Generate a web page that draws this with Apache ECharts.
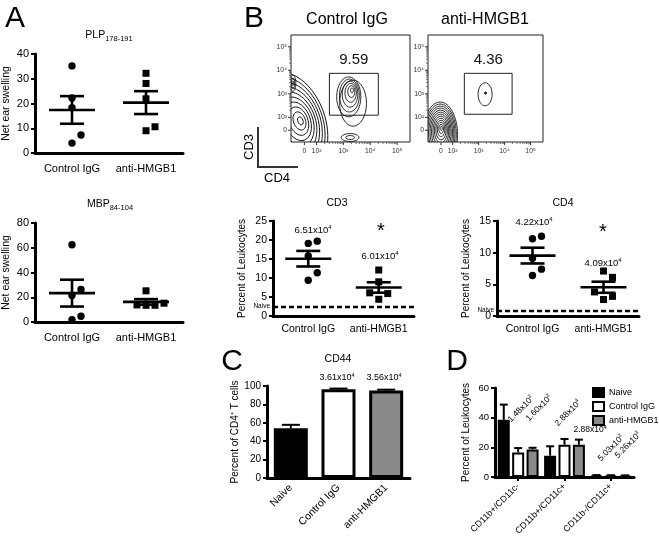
<!DOCTYPE html>
<html><head><meta charset="utf-8">
<script src="https://cdn.jsdelivr.net/npm/echarts@6/dist/echarts.min.js"></script>
<style>html,body{margin:0;padding:0;background:#fff}#c{width:659px;height:545px}</style>
</head><body><div id="c"></div>
<script>
const FONT = '"Liberation Sans", Arial, Helvetica, sans-serif';

// ---------------- data ----------------
const groupNames = ['Control IgG', 'anti-HMGB1'];
// Panel A: net ear swelling
const plpControl = [35.2, 22.2, 18.3, 4.0, 7.3];
const plpAnti = [32.2, 28.1, 21.9, 9.0, 10.6];
const mbpControl = [62.4, 21.4, 26.3, 1.9, 4.6];
const mbpAnti = [25.2, 13.5, 13.5, 13.8, 15.2];
// Panel B: percent of leukocytes
const cd3Control = [19.1, 19.7, 15.8, 9.4, 11.4];
const cd3Anti = [12.1, 9.0, 4.4, 5.9, 6.1];
const cd4Control = [12.2, 12.6, 9.1, 6.4, 7.4];
const cd4Anti = [7.1, 6.1, 2.6, 3.1, 3.8];
const cd3Naive = 2.45;
const cd4Naive = 0.84;
const cd3Counts = [['6.51', '4'], ['6.01', '4']];
const cd4Counts = [['4.22', '4'], ['4.09', '4']];
// Panel B: flow plots (axis units: 10^k -> k)
const flowTickX = [1.55, 2, 3, 4, 5];
const flowTickY = [1.45, 2, 3, 4, 5];
const flowTickLabels = ['0', '10²', '10³', '10⁴', '10⁵'];
const flowMinorMultipliers = [2, 3, 4, 5, 6, 7, 8, 9];
const flowMinorDecades = [2, 3, 4];
const gateControl = [2.48, 4.30, 2.09, 3.87];
const gateAnti = [2.45, 4.29, 2.13, 3.87];
const gatePercent = ['9.59', '4.36'];
// contour populations: [cx, cy, rx, ry, coreX, coreY, levels, rotationDeg, innerScale]
const contoursControl = [
  [1.09, 1.79, 1.23, 2.2, 1.40, 1.85, 10, 20, 0.08],
  [1.12, 3.45, 0.11, 0.34, 1.12, 3.45, 3, 0, 0.3],
  [3.36, 2.60, 0.50, 0.98, 3.36, 2.60, 1, 0, 1],
  [3.20, 2.87, 0.45, 0.85, 3.32, 3.15, 6, 0, 0.12],
  [3.25, 1.14, 0.33, 0.17, 3.25, 1.14, 2, 0, 0.5]
];
const contoursAnti = [
  [1.52, 1.24, 0.67, 1.41, 1.56, 1.53, 13, 0, 0.06],
  [3.25, 2.98, 0.27, 0.49, 3.25, 2.98, 1, 0, 1],
  [3.27, 3.03, 0.04, 0.05, 3.27, 3.03, 1, 0, 1]
];
// Panel C: CD44
const cd44Groups = ['Naive', 'Control IgG', 'anti-HMGB1'];
const cd44Values = [54.2, 96.4, 95.0];
const cd44Errors = [3.6, 0.8, 1.0];
const cd44Counts = [null, ['3.61', '4'], ['3.56', '4']];
// Panel D: myeloid subsets
const myeloidGroups = ['CD11b+/CD11c-', 'CD11b+/CD11c+', 'CD11b-/CD11c+'];
const myeloidNaive = [38.6, 14.4, 1.0];
const myeloidNaiveErr = [10.2, 6.3, 0.3];
const myeloidControl = [16.6, 21.8, 0.9];
const myeloidControlErr = [2.9, 3.8, 0.3];
const myeloidAnti = [18.6, 21.8, 0.8];
const myeloidAntiErr = [1.1, 3.4, 0.3];

// ---------------- helpers ----------------
const FLOW_X = [1.05, 5.48];
const FLOW_Y = [0.95, 5.5];
const mean = a => a.reduce((s, v) => s + v, 0) / a.length;
const sem = a => { const m = mean(a); return Math.sqrt(a.reduce((s, v) => s + (v - m) * (v - m), 0) / (a.length - 1)) / Math.sqrt(a.length); };
const flowMinor = [];
flowMinorDecades.forEach(k => flowMinorMultipliers.forEach(m => flowMinor.push(k + Math.log10(m))));

function jitterOffsets(vals, toPx) {
  const placed = [], offs = [];
  const cands = [0, 9, -9, 18, -18, 27, -27];
  vals.forEach(v => {
    const py = toPx(v);
    for (const c of cands) {
      if (!placed.some(p => p.o === c && Math.abs(p.y - py) < 8.5)) { placed.push({ o: c, y: py }); offs.push(c); break; }
    }
  });
  return offs;
}

function dotSeries(gi, ctrl, anti, naive) {
  const groups = [ctrl, anti];
  const pts = [];
  ctrl.forEach(v => pts.push([0, v]));
  anti.forEach(v => pts.push([1, v]));
  const stroke = { stroke: '#000', lineWidth: 2.6 };
  const meanSeries = {
    type: 'custom', xAxisIndex: gi, yAxisIndex: gi, silent: true, z: 3,
    data: groups.map((g, i) => [i, mean(g), sem(g)]),
    renderItem(params, api) {
      const c = api.value(0), m = api.value(1), s = api.value(2);
      const pm = api.coord([c, m]), pu = api.coord([c, m + s]), pl = api.coord([c, m - s]);
      return { type: 'group', children: [
        { type: 'line', shape: { x1: pm[0] - 23, y1: pm[1], x2: pm[0] + 23, y2: pm[1] }, style: stroke },
        { type: 'line', shape: { x1: pu[0] - 12, y1: pu[1], x2: pu[0] + 12, y2: pu[1] }, style: stroke },
        { type: 'line', shape: { x1: pl[0] - 12, y1: pl[1], x2: pl[0] + 12, y2: pl[1] }, style: stroke },
        { type: 'line', shape: { x1: pu[0], y1: pu[1], x2: pl[0], y2: pl[1] }, style: stroke }
      ] };
    }
  };
  if (naive != null) {
    meanSeries.markLine = {
      silent: true, symbol: 'none', animation: false,
      data: [{ yAxis: naive }],
      lineStyle: { type: [5, 3], width: 2.4, color: '#000' },
      label: { show: true, position: 'start', formatter: 'Naive', fontSize: 6.5, color: '#000', distance: 3, fontFamily: FONT }
    };
  }
  return [{
    type: 'custom', xAxisIndex: gi, yAxisIndex: gi, silent: true, z: 2,
    data: pts,
    renderItem(params, api) {
      const c = api.value(0), v = api.value(1);
      const vals = groups[c];
      const offs = jitterOffsets(vals, val => api.coord([c, val])[1]);
      const idx = c === 0 ? params.dataIndex : params.dataIndex - ctrl.length;
      const p = api.coord([c, v]);
      const x = p[0] + offs[idx];
      if (c === 0) return { type: 'circle', shape: { cx: x, cy: p[1], r: 3.7 }, style: { fill: '#000' } };
      return { type: 'rect', shape: { x: x - 3.5, y: p[1] - 3.5, width: 7, height: 7 }, style: { fill: '#000' } };
    }
  }, meanSeries];
}

function dotAxes(gi, maxV, interval, name, o) {
  return {
    x: { type: 'category', gridIndex: gi, data: groupNames,
      axisLine: { lineStyle: { color: '#000', width: 3 } }, axisTick: { show: false },
      axisLabel: { color: '#000', fontSize: o.catFont, margin: o.catMargin, fontFamily: FONT, interval: 0, hideOverlap: false } },
    y: { type: 'value', gridIndex: gi, min: 0, max: maxV, interval: interval,
      axisLine: { show: true, lineStyle: { color: '#000', width: 3 } },
      axisTick: { show: true, length: 4, lineStyle: { color: '#000', width: 2 } },
      axisLabel: { color: '#000', fontSize: o.tickFont, margin: 6, fontFamily: FONT },
      splitLine: { show: false },
      name: name, nameLocation: 'middle', nameGap: o.nameGap,
      nameTextStyle: { fontSize: o.nameFont, color: '#000', fontFamily: FONT } }
  };
}

function flowSeries(gi, contours, gate, pct) {
  return [{
    type: 'custom', xAxisIndex: gi, yAxisIndex: gi, silent: true, clip: true,
    data: contours.map(c => [c[0], c[1]]),
    renderItem(params, api) {
      const d = contours[params.dataIndex];
      const [cx, cy, rx, ry, kx, ky, n, rot, kmin] = d;
      const children = [];
      for (let i = 0; i < n; i++) {
        const t = n === 1 ? 0 : i / (n - 1);
        const k = 1 - t * (1 - kmin);
        const c = api.coord([cx + (kx - cx) * t, cy + (ky - cy) * t]);
        const s = api.size([rx * k, ry * k]);
        children.push({ type: 'ellipse', x: c[0], y: c[1], rotation: rot * Math.PI / 180,
          shape: { cx: 0, cy: 0, rx: Math.max(s[0], 0.6), ry: Math.max(s[1], 0.6) },
          style: { fill: n === 1 && rx < 0.1 ? '#222' : null, stroke: '#151515', lineWidth: 0.9 } });
      }
      return { type: 'group', children };
    }
  }, {
    type: 'custom', xAxisIndex: gi, yAxisIndex: gi, silent: true,
    data: [gate],
    renderItem(params, api) {
      const a = api.coord([api.value(0), api.value(3)]);
      const b = api.coord([api.value(1), api.value(2)]);
      return { type: 'group', children: [
        { type: 'rect', shape: { x: a[0], y: a[1], width: b[0] - a[0], height: b[1] - a[1] }, style: { fill: null, stroke: '#222', lineWidth: 1 } },
        { type: 'text', x: (a[0] + b[0]) / 2, y: a[1] - 13, style: { text: pct, fontSize: 15, fill: '#111', align: 'center', verticalAlign: 'middle', fontFamily: FONT } }
      ] };
    }
  }, {
    type: 'custom', xAxisIndex: gi, yAxisIndex: gi, silent: true,
    data: flowTickLabels.map((l, i) => [flowTickX[i], flowTickY[i]]),
    renderItem(params, api) {
      const i = params.dataIndex;
      const px = api.coord([api.value(0), FLOW_Y[0]]);
      const py = api.coord([FLOW_X[0], api.value(1)]);
      const ts = { stroke: '#333', lineWidth: 1 };
      return { type: 'group', children: [
        { type: 'line', shape: { x1: px[0], y1: px[1], x2: px[0], y2: px[1] + 3 }, style: ts },
        { type: 'text', x: px[0], y: px[1] + 9, style: { text: flowTickLabels[i], fontSize: 6.8, fill: '#333', align: 'center', verticalAlign: 'middle', fontFamily: FONT } },
        { type: 'line', shape: { x1: py[0] - 3, y1: py[1], x2: py[0], y2: py[1] }, style: ts },
        { type: 'text', x: py[0] - 4, y: py[1], style: { text: flowTickLabels[i], fontSize: 6.8, fill: '#333', align: 'right', verticalAlign: 'middle', fontFamily: FONT } }
      ] };
    }
  }, {
    type: 'custom', xAxisIndex: gi, yAxisIndex: gi, silent: true,
    data: flowMinor.map(v => [v, v]),
    renderItem(params, api) {
      const px = api.coord([api.value(0), FLOW_Y[0]]);
      const py = api.coord([FLOW_X[0], api.value(1)]);
      const ts = { stroke: '#555', lineWidth: 0.8 };
      return { type: 'group', children: [
        { type: 'line', shape: { x1: px[0], y1: px[1], x2: px[0], y2: px[1] + 2 }, style: ts },
        { type: 'line', shape: { x1: py[0] - 2, y1: py[1], x2: py[0], y2: py[1] }, style: ts }
      ] };
    }
  }];
}

function errSeries(gi, cats, vals, errs, offsetPx, cap) {
  return {
    type: 'custom', xAxisIndex: gi, yAxisIndex: gi, silent: true, z: 5,
    data: vals.map((v, i) => [i, v, errs[i]]),
    renderItem(params, api) {
      const c = api.value(0), v = api.value(1), e = api.value(2);
      const p0 = api.coord([c, v]), p1 = api.coord([c, v + e]);
      const x = p0[0] + offsetPx;
      const st = { stroke: '#000', lineWidth: 2 };
      return { type: 'group', children: [
        { type: 'line', shape: { x1: x, y1: p0[1], x2: x, y2: p1[1] }, style: st },
        { type: 'line', shape: { x1: x - cap, y1: p1[1], x2: x + cap, y2: p1[1] }, style: st }
      ] };
    }
  };
}

function sci(m, e, size, extra) {
  return Object.assign({ type: 'text', style: {
    text: m + 'x10{p|' + e + '}', fontSize: size, fontFamily: FONT, fill: '#000',
    align: 'center', verticalAlign: 'middle', lineHeight: size + 2,
    rich: { p: { fontSize: size * 0.62, verticalAlign: 'top', lineHeight: size * 0.7, fontFamily: FONT, fill: '#000' } }
  } }, extra);
}
function txt(x, y, text, size, extra) {
  return Object.assign({ type: 'text', x, y, style: { text, fontSize: size, fontFamily: FONT, fill: '#000', align: 'center', verticalAlign: 'middle' } }, extra || {});
}
function subTitle(x, y, main, sub) {
  return { type: 'text', x, y, style: {
    text: '{m|' + main + '}{s|' + sub + '}', align: 'center', verticalAlign: 'middle',
    rich: { m: { fontSize: 10.5, lineHeight: 15, fontFamily: FONT, fill: '#000' },
            s: { fontSize: 7.5, lineHeight: 8, verticalAlign: 'bottom', fontFamily: FONT, fill: '#000' } } } };
}

// ---------------- layout ----------------
const aTop = dotAxes(0, 40, 10, 'Net ear swelling', { catFont: 11, catMargin: 10, tickFont: 11, nameGap: 23, nameFont: 10.5 });
const aBot = dotAxes(1, 80, 20, 'Net ear swelling', { catFont: 11, catMargin: 10, tickFont: 11, nameGap: 23, nameFont: 10.5 });
const bCd3 = dotAxes(2, 25, 5, 'Percent of Leukocytes', { catFont: 10.5, catMargin: 8, tickFont: 10.5, nameGap: 26, nameFont: 10 });
const bCd4 = dotAxes(3, 15, 5, 'Percent of Leukocytes', { catFont: 10.5, catMargin: 8, tickFont: 10.5, nameGap: 26, nameFont: 10 });

const axisLine3 = { lineStyle: { color: '#000', width: 3 } };
const cX = { type: 'category', gridIndex: 4, data: cd44Groups, axisLine: axisLine3, axisTick: { show: false },
  axisLabel: { color: '#000', fontSize: 10.5, rotate: 45, margin: 8, fontFamily: FONT, interval: 0 } };
const cY = { type: 'value', gridIndex: 4, min: 0, max: 100, interval: 20, axisLine: { show: true, lineStyle: { color: '#000', width: 3 } },
  axisTick: { show: true, length: 4, lineStyle: { color: '#000', width: 2 } }, splitLine: { show: false },
  axisLabel: { color: '#000', fontSize: 10, margin: 6, fontFamily: FONT },
  name: 'Percent of CD4⁺ T cells', nameLocation: 'middle', nameGap: 25, nameTextStyle: { fontSize: 10, color: '#000', fontFamily: FONT } };
const dX = { type: 'category', gridIndex: 5, data: myeloidGroups, axisLine: axisLine3,
  axisTick: { show: true, alignWithLabel: true, length: 4, lineStyle: { color: '#000', width: 2 } },
  axisLabel: { color: '#000', fontSize: 9, rotate: 45, margin: 8, fontFamily: FONT, interval: 0 } };
const dY = { type: 'value', gridIndex: 5, min: 0, max: 60, interval: 20, axisLine: { show: true, lineStyle: { color: '#000', width: 3 } },
  axisTick: { show: true, length: 4, lineStyle: { color: '#000', width: 2 } }, splitLine: { show: false },
  axisLabel: { color: '#000', fontSize: 9.5, margin: 6, fontFamily: FONT },
  name: 'Percent of Leukocytes', nameLocation: 'middle', nameGap: 24, nameTextStyle: { fontSize: 10, color: '#000', fontFamily: FONT } };
const flowAx = gi => ({ x: { type: 'value', gridIndex: gi, min: FLOW_X[0], max: FLOW_X[1], show: false },
  y: { type: 'value', gridIndex: gi, min: FLOW_Y[0], max: FLOW_Y[1], show: false } });
const fC = flowAx(6), fA = flowAx(7);

const barBorder = { borderColor: '#000', borderWidth: 2 };
const cd44Fill = ['#000', '#fff', '#8a8a8a'];
const BAR_W = 12, BAR_STEP = 14.4;

const option = {
  animation: false,
  backgroundColor: '#fff',
  textStyle: { fontFamily: FONT },
  grid: [
    { left: 35, top: 54, width: 148, height: 99 },
    { left: 35, top: 223, width: 148, height: 99 },
    { left: 273, top: 221, width: 141, height: 95 },
    { left: 497, top: 221, width: 142, height: 95 },
    { left: 267, top: 386, width: 143, height: 92 },
    { left: 495, top: 388, width: 139, height: 89 },
    { left: 291, top: 35, width: 119, height: 107, show: true, borderColor: '#222', borderWidth: 1, backgroundColor: 'transparent' },
    { left: 428, top: 35, width: 115, height: 107, show: true, borderColor: '#222', borderWidth: 1, backgroundColor: 'transparent' }
  ],
  xAxis: [aTop.x, aBot.x, bCd3.x, bCd4.x, cX, dX, fC.x, fA.x],
  yAxis: [aTop.y, aBot.y, bCd3.y, bCd4.y, cY, dY, fC.y, fA.y],
  legend: {
    data: ['Naive', 'Control IgG', 'anti-HMGB1'], orient: 'vertical', left: 587, top: 382,
    itemWidth: 11, itemHeight: 9, itemGap: 3, icon: 'rect',
    textStyle: { fontSize: 9, color: '#000', fontFamily: FONT }, selectedMode: false
  },
  series: [
    ...dotSeries(0, plpControl, plpAnti, null),
    ...dotSeries(1, mbpControl, mbpAnti, null),
    ...dotSeries(2, cd3Control, cd3Anti, cd3Naive),
    ...dotSeries(3, cd4Control, cd4Anti, cd4Naive),
    { type: 'bar', name: 'CD44', xAxisIndex: 4, yAxisIndex: 4, barWidth: 34, silent: true,
      data: cd44Values.map((v, i) => ({ value: v, itemStyle: { color: cd44Fill[i], borderColor: '#000', borderWidth: 3 } })) },
    errSeries(4, cd44Groups, cd44Values, cd44Errors, 0, 9),
    { type: 'bar', name: 'Naive', xAxisIndex: 5, yAxisIndex: 5, barWidth: BAR_W, barGap: '20%', silent: true,
      itemStyle: Object.assign({ color: '#000' }, barBorder), data: myeloidNaive },
    { type: 'bar', name: 'Control IgG', xAxisIndex: 5, yAxisIndex: 5, barWidth: BAR_W, barGap: '20%', silent: true,
      itemStyle: Object.assign({ color: '#fff' }, barBorder), data: myeloidControl },
    { type: 'bar', name: 'anti-HMGB1', xAxisIndex: 5, yAxisIndex: 5, barWidth: BAR_W, barGap: '20%', silent: true,
      itemStyle: Object.assign({ color: '#8a8a8a' }, barBorder), data: myeloidAnti },
    errSeries(5, myeloidGroups, myeloidNaive, myeloidNaiveErr, -BAR_STEP, 4),
    errSeries(5, myeloidGroups, myeloidControl, myeloidControlErr, 0, 4),
    errSeries(5, myeloidGroups, myeloidAnti, myeloidAntiErr, BAR_STEP, 4),
    ...flowSeries(6, contoursControl, gateControl, gatePercent[0]),
    ...flowSeries(7, contoursAnti, gateAnti, gatePercent[1])
  ],
  graphic: { elements: [
    txt(15, 19, 'A', 30),
    txt(254, 19, 'B', 30),
    txt(232, 362, 'C', 30),
    txt(457, 362, 'D', 30),
    subTitle(109, 35, 'PLP', '178-191'),
    subTitle(110, 204, 'MBP', '84-104'),
    txt(337, 203, 'CD3', 10.5),
    txt(563, 203, 'CD4', 10.5),
    txt(338, 359, 'CD44', 10.5),
    txt(347, 20, 'Control IgG', 16),
    txt(485, 20, 'anti-HMGB1', 16),
    { type: 'polyline', shape: { points: [[258, 127], [258, 167], [298, 167]] }, style: { stroke: '#333', lineWidth: 2, fill: null } },
    txt(249, 147, 'CD3', 13, { rotation: Math.PI / 2 }),
    txt(277, 178, 'CD4', 13),
    sci(cd3Counts[0][0], cd3Counts[0][1], 9.5, { x: 313, y: 230 }),
    sci(cd3Counts[1][0], cd3Counts[1][1], 9.5, { x: 380, y: 256 }),
    txt(381, 231, '*', 20),
    sci(cd4Counts[0][0], cd4Counts[0][1], 9.5, { x: 534, y: 222 }),
    sci(cd4Counts[1][0], cd4Counts[1][1], 9.5, { x: 603, y: 263 }),
    txt(603, 232, '*', 20),
    sci(cd44Counts[1][0], cd44Counts[1][1], 9, { x: 337, y: 378 }),
    sci(cd44Counts[2][0], cd44Counts[2][1], 9, { x: 384, y: 378 }),
    sci('1.48', '3', 8.5, { x: 521, y: 409, rotation: Math.PI / 4 }),
    sci('1.60', '3', 8.5, { x: 539, y: 408, rotation: Math.PI / 4 }),
    sci('2.88', '4', 8.5, { x: 568, y: 413, rotation: Math.PI / 4 }),
    sci('2.88', '4', 8.5, { x: 590, y: 430 }),
    sci('5.03', '3', 8.5, { x: 611, y: 448, rotation: Math.PI / 4 }),
    sci('5.26', '3', 8.5, { x: 628, y: 445, rotation: Math.PI / 4 })
  ] }
};

const chart = echarts.init(document.getElementById('c'), null, { renderer: 'canvas' });
chart.setOption(option);
</script>
</body></html>
